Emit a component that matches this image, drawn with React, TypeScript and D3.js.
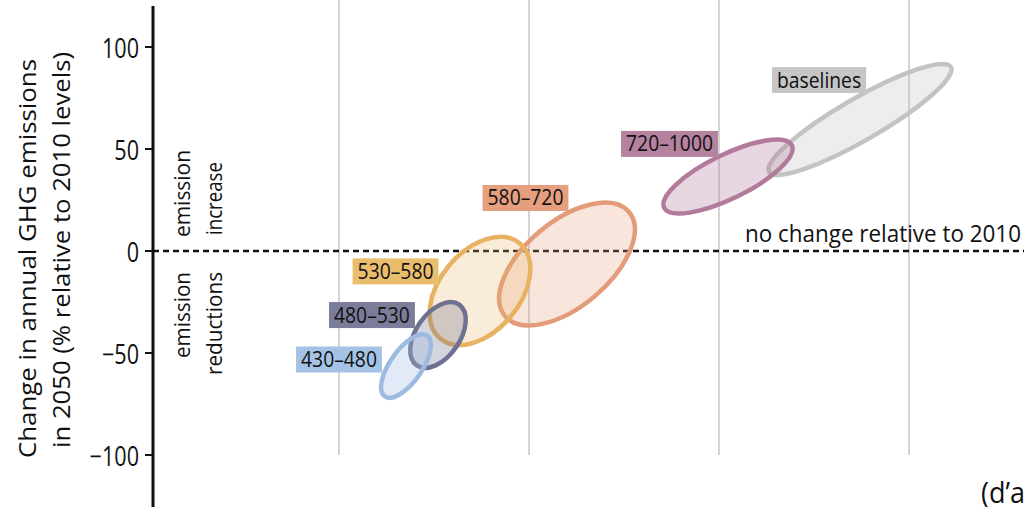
import React, { useLayoutEffect, useRef, useState } from "react";
import * as d3 from "d3";

// ---- data ----
const ranges = ["430–480", "480–530", "530–580", "580–720", "720–1000", "baselines"];
// ellipse centres: cumulative CO2 (GtCO2) and change in 2050 emissions (%)
const centerX = [2705, 3042, 3484, 4400, 6095, 7484];
const centerY = [-56.4, -41.2, -19.6, -6.4, 36.5, 64.5];
// half major axis expressed in data units
const axisDX = [223, 223, 420, 653, 672, 957];
const axisDY = [14.9, 14.9, 23.3, 25.5, 15.3, 25.7];
// minor / major ratio
const widthRatio = [0.43, 0.59, 0.645, 0.525, 0.31, 0.2];
// label anchor points (data units)
const labelX = [2000, 2347, 2595, 3963, 5479, 7053];
const labelY = [-53.2, -31.4, -10, 26, 52.5, 83.8];

const strokeColors = ["#9dbbe0", "#6f7190", "#e8b263", "#e39b79", "#b27b9b", "#c3c3c3"];
const boxColors = ["#a4c2e6", "#7b7c9a", "#eabd6c", "#e59f7f", "#b5829f", "#c6c6c6"];
const fillOpacity = [0.3, 0.3, 0.25, 0.25, 0.3, 0.3];

const xGrid = [2000, 4000, 6000, 8000];
const yTicks = [100, 50, 0, -50, -100];

const FONT = "'Open Sans', 'Noto Sans', sans-serif";

const x = d3.scaleLinear().domain([2000, 8000]).range([339, 909]);
const y = d3.scaleLinear().domain([0, 100]).range([251, 47]);

function Txt(props: any) {
  const { x: tx, y: ty, rot = 0, sx = 1, size, anchor = "start", len, children } = props;
  return (
    <text
      transform={`translate(${tx},${ty}) rotate(${rot}) scale(${sx},1)`}
      fontSize={size}
      textAnchor={anchor}
      fontFamily={FONT}
      fill="#111"
      textLength={len}
      lengthAdjust={len ? "spacingAndGlyphs" : undefined}
    >
      {children}
    </text>
  );
}

function LabelBox({ cx, cy, text, color }: any) {
  const ref = useRef<SVGTextElement>(null);
  const [w, setW] = useState(80);
  useLayoutEffect(() => {
    if (ref.current) setW(ref.current.getBBox().width);
  }, [text]);
  const sx = 0.92;
  const bw = w * sx + 10;
  const bh = 26;
  return (
    <g transform={`translate(${cx},${cy})`}>
      <rect x={-bw / 2} y={-bh / 2} width={bw} height={bh} fill={color} />
      <g transform={`scale(${sx},1)`}>
        <text ref={ref} x={0} y={7.5} textAnchor="middle" fontSize={21} fontFamily={FONT} fill="#111">
          {text}
        </text>
      </g>
    </g>
  );
}

export default function App() {
  const ellipses = ranges.map((r, i) => {
    const cx = x(centerX[i]);
    const cy = y(centerY[i]);
    const dxp = x(centerX[i] + axisDX[i]) - cx;
    const dyp = cy - y(centerY[i] + axisDY[i]);
    const a = Math.hypot(dxp, dyp);
    const ang = (Math.atan2(dyp, dxp) * 180) / Math.PI;
    return { r, i, cx, cy, a, b: a * widthRatio[i], ang };
  });
  const order = [5, 4, 3, 2, 1, 0];

  return (
    <svg
      width={1024}
      height={507}
      style={{ position: "absolute", left: 0, top: 0, background: "#fff", overflow: "hidden" }}
    >
      {/* vertical grid */}
      {xGrid.map((g) => (
        <line key={g} x1={x(g)} x2={x(g)} y1={0} y2={y(-100)} stroke="#d4d4d4" strokeWidth={2} />
      ))}

      {/* zero line */}
      <line x1={153} x2={1024} y1={y(0)} y2={y(0)} stroke="#111" strokeWidth={2.4} strokeDasharray="6,4" />

      {/* ellipses */}
      {order.map((k) => {
        const e = ellipses[k];
        return (
          <ellipse
            key={e.r}
            cx={0}
            cy={0}
            rx={e.a}
            ry={e.b}
            transform={`translate(${e.cx},${e.cy}) rotate(${-e.ang})`}
            fill={strokeColors[k]}
            fillOpacity={fillOpacity[k]}
            stroke={strokeColors[k]}
            strokeWidth={4.5}
          />
        );
      })}

      {/* labels */}
      {ranges.map((r, i) => (
        <LabelBox key={r} cx={x(labelX[i])} cy={y(labelY[i])} text={r} color={boxColors[i]} />
      ))}

      {/* y axis */}
      <line x1={153} x2={153} y1={6} y2={507} stroke="#111" strokeWidth={3} />
      {yTicks.map((t) => (
        <g key={t}>
          <line x1={145} x2={153} y1={y(t)} y2={y(t)} stroke="#111" strokeWidth={2} />
          <Txt x={139} y={y(t) + 10.5} size={27} sx={0.8} anchor="end">
            {t < 0 ? `−${Math.abs(t)}` : `${t}`}
          </Txt>
        </g>
      ))}

      {/* y axis title */}
      <Txt x={36} y={458} rot={-90} size={24} len={399}>
        Change in annual GHG emissions
      </Txt>
      <Txt x={70} y={448} rot={-90} size={24} len={396}>
        in 2050 (% relative to 2010 levels)
      </Txt>

      {/* region labels */}
      <Txt x={190} y={237} rot={-90} size={21} len={87}>emission</Txt>
      <Txt x={222} y={235} rot={-90} size={21} len={73}>increase</Txt>
      <Txt x={190} y={358} rot={-90} size={21} len={86}>emission</Txt>
      <Txt x={222} y={375} rot={-90} size={21} len={103}>reductions</Txt>

      <Txt x={745} y={242} size={23} len={276}>no change relative to 2010</Txt>

      <Txt x={981} y={503} size={30} sx={0.9}>(d’après</Txt>
    </svg>
  );
}
